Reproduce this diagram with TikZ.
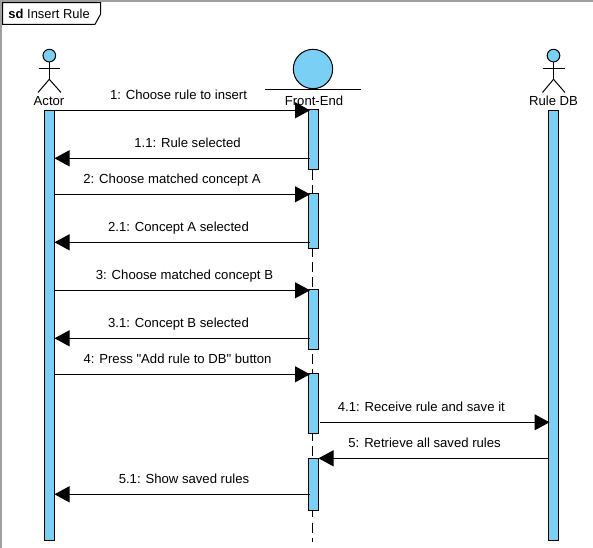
\documentclass[tikz,border=0pt]{standalone}
\usepackage{fontspec}
\setmainfont{Liberation Sans}[Ligatures=TeXOff]
\usetikzlibrary{arrows.meta}
\tikzset{every picture/.style={line width=0.75pt}}
\definecolor{barblue}{RGB}{122,207,245}
\tikzset{
  bar/.style={draw,fill=barblue,minimum width=7.2pt,inner sep=0pt,anchor=north},
  msg/.style={-{Triangle[length=11.25pt,width=12pt]}},
  lbl/.style={font=\fontsize{9.85}{11}\selectfont,inner sep=0pt,anchor=base},
  head/.style={draw,circle,fill=barblue,inner sep=0pt},
}
\begin{document}
\begin{tikzpicture}[x=0.75pt,y=0.75pt,yscale=-1,xscale=1]
\useasboundingbox (0,0) rectangle (593,548);

% Frame
\draw [color=gray!75,line width=1.1pt] (0.8,548) -- (0.8,0.8) -- (593,0.8);
\draw [fill=white] (2.7,2.7) -- (100.7,2.7) -- (100.7,14) -- (95,24.3) -- (2.7,24.3) -- cycle;
\node (title) [anchor=base west,inner sep=0pt,font=\fontsize{9.7}{11}\selectfont] at (8,19) {\textbf{sd} Insert Rule};

% Actor
\node (actorhead) [head,minimum size=9.5pt] at (49.3,55.6) {};
\coordinate (actorhip) at (49.3,79.3);
\draw (actorhead.south) -- (actorhip);
\draw (38.7,68.4) -- (60.3,68.4);
\draw (actorhip) -- (38,92.5);
\draw (actorhip) -- (61,92.5);
\node (actor) [lbl] at (49,105.5) {Actor};

% Front-End
\node (fronthead) [head,minimum size=29.5pt] at (313,69) {};
\draw (265,89.5) -- (361,89.5);
\node (front) [lbl] at (314,105.5) {Front-End};

% Rule DB
\node (dbhead) [head,minimum size=9.5pt] at (553.5,55.6) {};
\coordinate (dbhip) at (553.5,79.3);
\draw (dbhead.south) -- (dbhip);
\draw (542.5,68.4) -- (564.5,68.4);
\draw (dbhip) -- (542.5,92.5);
\draw (dbhip) -- (565,92.5);
\node (db) [lbl] at (553.5,105.5) {Rule DB};

% Lifeline
\coordinate (lifetop) at (312.5,170);
\coordinate (lifeend) at (312.5,542);
\draw [dash pattern=on 7.5pt off 4pt] (lifetop) -- (lifeend);

% Bars
\node (barA) [bar,minimum height=322.5pt] at (49.5,109.7) {};
\node (barD) [bar,minimum height=322.5pt] at (553.5,109.7) {};
\node (f1) [bar,minimum height=45pt] at (313.3,109.5) {};
\node (f2) [bar,minimum height=41.25pt] at (313.3,193.5) {};
\node (f3) [bar,minimum height=45pt] at (313.3,289.5) {};
\node (f4) [bar,minimum height=45pt] at (313.3,373.5) {};
\node (f5) [bar,minimum height=39pt] at (313.3,457.7) {};

% Messages
\coordinate (a1) at (54.5,110.3);  \coordinate (b1) at (310,110.3);
\coordinate (a2) at (54.5,158.3);  \coordinate (b2) at (310,158.3);
\coordinate (a3) at (54.5,194.3);  \coordinate (b3) at (310,194.3);
\coordinate (a4) at (54.5,242.3);  \coordinate (b4) at (310,242.3);
\coordinate (a5) at (54.5,290.3);  \coordinate (b5) at (310,290.3);
\coordinate (a6) at (54.5,338.3);  \coordinate (b6) at (310,338.3);
\coordinate (a7) at (54.5,374.3);  \coordinate (b7) at (310,374.3);
\coordinate (a8) at (54.5,494.3);  \coordinate (b8) at (310,494.3);
\coordinate (c1) at (320,422.3); \coordinate (d1) at (549.5,422.3);
\coordinate (c2) at (318.5,458.3); \coordinate (d2) at (549,458.3);

\draw [msg] (a1) -- (b1);
\draw [msg] (b2) -- (a2);
\draw [msg] (a3) -- (b3);
\draw [msg] (b4) -- (a4);
\draw [msg] (a5) -- (b5);
\draw [msg] (b6) -- (a6);
\draw [msg] (a7) -- (b7);
\draw [msg] (c1) -- (d1);
\draw [msg] (d2) -- (c2);
\draw [msg] (b8) -- (a8);

% Labels
\node (t1) [lbl] at (178.5,100) {1: Choose rule to insert};
\node (t2) [lbl] at (187.5,148) {1.1: Rule selected};
\node (t3) [lbl] at (172,184) {2: Choose matched concept A};
\node (t4) [lbl] at (178.5,232) {2.1: Concept A selected};
\node (t5) [lbl] at (184.5,280) {3: Choose matched concept B};
\node (t6) [lbl] at (178.5,328) {3.1: Concept B selected};
\node (t7) [lbl] at (177.5,364) {4: Press "Add rule to DB" button};
\node (t8) [lbl] at (421.4,412) {4.1: Receive rule and save it};
\node (t9) [lbl] at (424.6,448) {5: Retrieve all saved rules};
\node (t10) [lbl] at (184,484) {5.1: Show saved rules};
\end{tikzpicture}
\end{document}
